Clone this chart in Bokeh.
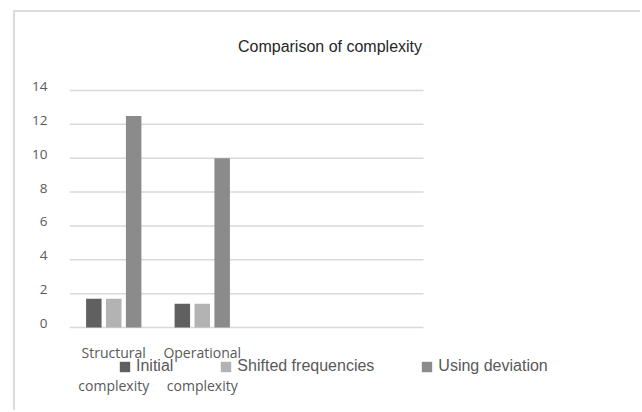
from bokeh.plotting import figure
from bokeh.models import (ColumnDataSource, Range1d, FixedTicker, Legend, LegendItem, LinearAxis)
from bokeh.core.properties import value
from bokeh.embed import file_html
from bokeh.resources import INLINE

# ---- data ----
categories = ["Structural complexity", "Operational complexity"]
n_slots = 4  # chart area reserves room for 4 category slots
series_names = ["Initial", "Shifted frequencies", "Using deviation"]
initial = [1.7, 1.4]
shifted = [1.7, 1.4]
using_deviation = [12.5, 10.0]
y_ticks = [0, 2, 4, 6, 8, 10, 12, 14]
title_text = "Comparison of complexity"

# ---- styling / layout constants ----
colors = ["#606060", "#b3b3b3", "#8b8b8b"]
offsets = [-0.225, 0.0, 0.225]
bar_w = 0.175
px_per_slot = 88.5
px_per_unit = 16.93
canvas_top, canvas_left = 12, 15
frame_left = 69
zero_px = 327
y_lo = -(412 - zero_px) / px_per_unit
y_hi = 14 + (90 - canvas_top) / px_per_unit
label_shift = 4 / px_per_unit  # tick labels sit on their gridline

p = figure(width=642 - canvas_left, height=412 - canvas_top, output_backend="svg",
           toolbar_location=None,
           x_range=Range1d(0, (642 - frame_left) / px_per_slot),
           y_range=Range1d(y_lo, y_hi),
           x_axis_location=None, y_axis_location=None,
           min_border_left=frame_left - canvas_left, min_border_right=0,
           min_border_top=0, min_border_bottom=0)
p.margin = (10, 0, 0, 13)
p.styles = {"border-top": "2px solid #dcdcdc", "border-left": "2px solid #dcdcdc"}
p.outline_line_color = None
p.background_fill_color = "white"
p.border_fill_color = "white"
p.xgrid.visible = False
p.ygrid.visible = False

# horizontal gridlines spanning the category slots only
p.segment(x0=[0] * len(y_ticks), x1=[n_slots] * len(y_ticks), y0=y_ticks, y1=y_ticks,
          line_color="#d9d9d9", line_width=1.5)

# y axis (labels slightly raised so they sit on the gridlines)
p.extra_y_ranges = {"labels": Range1d(y_lo - label_shift, y_hi - label_shift)}
ax = LinearAxis(y_range_name="labels", ticker=FixedTicker(ticks=y_ticks))
ax.axis_line_color = None
ax.major_tick_line_color = None
ax.minor_tick_line_color = None
ax.major_tick_out = 0
ax.major_tick_in = 0
ax.major_label_standoff = 22
ax.major_label_text_font = "Open Sans"
ax.major_label_text_font_size = "13.5px"
ax.major_label_text_color = "#595959"
p.add_layout(ax, "left")

renderers = []
for vals, col, off in zip([initial, shifted, using_deviation], colors, offsets):
    src = ColumnDataSource(dict(x=[i + 0.5 + off for i in range(len(categories))], top=vals))
    r = p.vbar(x="x", top="top", bottom=0, width=bar_w, source=src,
               fill_color=col, line_color=None)
    renderers.append(r)

# category labels (two lines each)
line1 = [c.split(" ")[0] for c in categories]
line2 = [c.split(" ")[1] for c in categories]
xs = [i + 0.5 for i in range(len(categories))]
for txt, yo in [(line1, 25), (line2, 58)]:
    p.text(x=xs, y=[0] * len(xs), text=txt, y_offset=yo,
           text_align="center", text_baseline="alphabetic",
           text_font=value("Open Sans"), text_font_size="14px", text_color="#595959")

legend = Legend(items=[LegendItem(label=n, renderers=[r]) for n, r in zip(series_names, renderers)],
                orientation="horizontal", location=(49, 412 - 375), glyph_width=13, glyph_height=13,
                label_standoff=5, spacing=46, padding=0, margin=0, label_height=13,
                border_line_color=None, background_fill_alpha=0,
                label_text_font="Liberation Sans", label_text_font_size="16px",
                label_text_color="#595959")
p.add_layout(legend)

# chart title
p.text(x=[(329.5 - frame_left) / px_per_slot], y=[14 + (90 - 46) / px_per_unit],
       text=[title_text], text_align="center", text_baseline="alphabetic",
       text_font=value("Liberation Sans"), text_font_size="16px", text_color="#262626")

open("out.html", "w").write(file_html(p, INLINE))
